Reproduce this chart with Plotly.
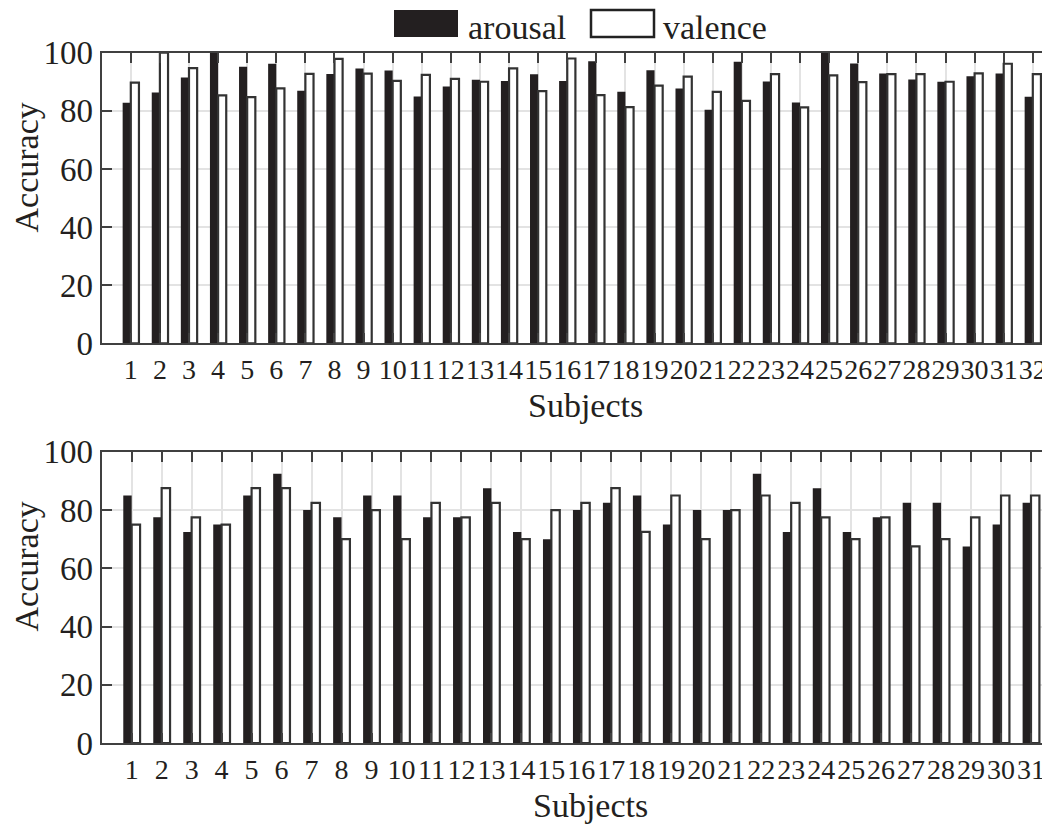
import plotly.graph_objects as go

# ---------------- data ----------------
subjects_top = list(range(1, 33))
arousal_top = [82.8, 86.3, 91.5, 100, 95.2, 96.2, 86.9, 92.7, 94.6, 93.9, 84.9, 88.4,
               90.7, 90.3, 92.6, 90.3, 97.1, 86.6, 94.0, 87.7, 80.4, 96.9, 90.1, 82.9,
               100, 96.3, 92.8, 90.8, 90.0, 91.9, 92.8, 84.8]
valence_top = [89.7, 100, 94.7, 85.3, 84.7, 87.7, 92.7, 97.9, 92.8, 90.3, 92.4, 91.0,
               90.0, 94.6, 86.8, 98.0, 85.4, 81.3, 88.7, 91.8, 86.5, 83.4, 92.6, 81.2,
               92.2, 89.9, 92.6, 92.6, 90.0, 92.9, 96.2, 92.6]

subjects_bot = list(range(1, 32))
arousal_bot = [85, 77.5, 72.5, 75, 85, 92.5, 80, 77.5, 85, 85, 77.5, 77.5, 87.5, 72.5,
               70, 80, 82.5, 85, 75, 80, 80, 92.5, 72.5, 87.5, 72.5, 77.5, 82.5, 82.5,
               67.5, 75, 82.5]
valence_bot = [75, 87.5, 77.5, 75, 87.5, 87.5, 82.5, 70, 80, 70, 82.5, 77.5, 82.5, 70,
               80, 82.5, 87.5, 72.5, 85, 70, 80, 85, 82.5, 77.5, 70, 77.5, 67.5, 70,
               77.5, 85, 85]

y_ticks = [0, 20, 40, 60, 80, 100]

# ---------------- style ----------------
OFF = 8                      # page body margin of the browser
W, H = 1050 - OFF, 825 - OFF
FONT = "Liberation Serif"
INK = "#231f20"
AXIS = "#404040"
GRID = "#e3e3e3"
BW = 0.28

fig = go.Figure()

def add_pair(xs, a, v, xa, ya):
    fig.add_trace(go.Bar(x=xs, y=a, name="arousal", width=BW, offset=-BW,
                         marker=dict(color=INK, line=dict(width=0)),
                         xaxis=xa, yaxis=ya, showlegend=False))
    fig.add_trace(go.Bar(x=xs, y=v, name="valence", width=BW, offset=0,
                         marker=dict(color="white", line=dict(color="#333333", width=2.2)),
                         xaxis=xa, yaxis=ya, showlegend=False))

add_pair(subjects_top, arousal_top, valence_top, "x", "y")
add_pair(subjects_bot, arousal_bot, valence_bot, "x2", "y2")

def px_x(p):
    return (p - OFF) / W

def px_y(p):
    return 1 - (p - OFF) / H

xdom = [px_x(101.7), 1.0]
top_dom = [px_y(343.3), px_y(52.7)]
bot_dom = [px_y(743.1), px_y(451.8)]

def xaxis_cfg(n, rng, anchor):
    return dict(domain=xdom, range=rng, anchor=anchor, automargin=False,
                tickmode="array", tickvals=list(range(1, n + 1)),
                ticktext=[str(i) for i in range(1, n + 1)], tickangle=0,
                ticks="inside", ticklen=10, tickwidth=2, tickcolor=AXIS,
                showline=True, linecolor=AXIS, linewidth=2, mirror="allticks",
                showgrid=True, gridcolor=GRID, gridwidth=2, zeroline=False,
                tickfont=dict(family=FONT, size=28, color=INK))

def yaxis_cfg(dom, anchor):
    return dict(domain=dom, range=[0, 100], anchor=anchor, automargin=False,
                tickmode="array", tickvals=y_ticks,
                ticks="inside", ticklen=10, tickwidth=2, tickcolor=AXIS,
                showline=True, linecolor=AXIS, linewidth=2, mirror=False,
                showgrid=True, gridcolor=GRID, gridwidth=2, zeroline=False,
                tickfont=dict(family=FONT, size=33, color=INK))

x_right = 1050  # right edge of the plotting area (cropped in reference)
top_range = [0, 32 + (x_right - 1032.8) / 29.1]
bot_range = [0, 31 + (x_right - 1031.0) / 29.98]

fig.update_layout(
    template="none",
    width=W, height=H,
    margin=dict(l=0, r=0, t=0, b=0, pad=0),
    paper_bgcolor="white", plot_bgcolor="white",
    font=dict(family=FONT, color=INK),
    barmode="overlay",
    showlegend=False,
    xaxis=xaxis_cfg(32, top_range, "y"),
    yaxis=yaxis_cfg(top_dom, "x"),
    xaxis2=xaxis_cfg(31, bot_range, "y2"),
    yaxis2=yaxis_cfg(bot_dom, "x2"),
)

ann = []
# axis titles
for yc in (167.5, 566.5):
    ann.append(dict(text="Accuracy", x=px_x(26), y=px_y(yc), xref="paper", yref="paper",
                    xanchor="center", yanchor="middle", textangle=-90, showarrow=False,
                    font=dict(family=FONT, size=34, color=INK)))
for xc, yc in ((585, 406), (590, 805)):
    ann.append(dict(text="Subjects", x=px_x(xc), y=px_y(yc), xref="paper", yref="paper",
                    xanchor="center", yanchor="middle", showarrow=False,
                    font=dict(family=FONT, size=34, color=INK)))
# legend text
for txt, xl in (("arousal", 466), ("valence", 661)):
    ann.append(dict(text=txt, x=px_x(xl), y=px_y(27), xref="paper", yref="paper",
                    xanchor="left", yanchor="middle", showarrow=False,
                    font=dict(family=FONT, size=34, color=INK)))
fig.update_layout(annotations=ann)

# legend swatches
fig.add_shape(type="rect", xref="paper", yref="paper",
              x0=px_x(394), x1=px_x(458), y0=px_y(37), y1=px_y(10),
              fillcolor=INK, line=dict(width=0))
fig.add_shape(type="rect", xref="paper", yref="paper",
              x0=px_x(591), x1=px_x(654), y0=px_y(37), y1=px_y(10),
              fillcolor="white", line=dict(color="#222222", width=2.5))

fig.write_html("out.html")
